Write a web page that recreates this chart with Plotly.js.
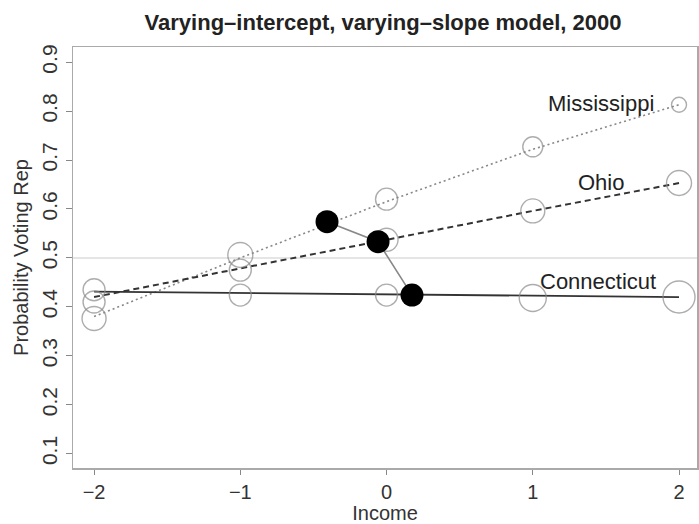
<!DOCTYPE html>
<html>
<head>
<meta charset="utf-8">
<script src="https://cdn.plot.ly/plotly-3.0.1.min.js"></script>
<style>html,body{margin:0;padding:0;background:#fff;}#chart{width:699px;height:524px;}</style>
</head>
<body>
<div id="chart"></div>
<script>
// Income levels
const income = [-2, -1, 0, 1, 2];

// Observed proportions (open circles) and sizes
const missObs = [0.376, 0.506, 0.620, 0.727, 0.813];
const missSize = [24, 25, 22, 20, 15];
const ohioObs = [0.410, 0.475, 0.537, 0.596, 0.653];
const ohioSize = [22, 22, 23, 24, 25];
const connObs = [0.435, 0.424, 0.424, 0.418, 0.420];
const connSize = [22, 22, 22, 27, 32];

// Fitted lines
const missFit = [0.380, 0.500, 0.615, 0.722, 0.813];
const ohioFit = [0.420, 0.478, 0.537, 0.596, 0.653];
const connFit = [0.431, 0.428, 0.425, 0.423, 0.420];

// State averages (filled dots)
const avgIncome = [-0.407, -0.058, 0.174];
const avgProb = [0.574, 0.533, 0.424];

// Labels
const stateNames = ["Mississippi", "Ohio", "Connecticut"];
const labelX = [1.843, 1.638, 1.857];
const labelY = [0.815, 0.654, 0.451];

const yTicks = [0.1, 0.2, 0.3, 0.4, 0.5, 0.6, 0.7, 0.8, 0.9];
const xTicks = [-2, -1, 0, 1, 2];
const refLine = 0.5;

const font = "Liberation Sans, Arial, Helvetica, sans-serif";
const ringColor = "#8a8a8a";

const traces = [
  {x: income, y: missFit, mode: "lines", line: {color: "#888", width: 1.6, dash: "2px,3px"}, hoverinfo: "skip"},
  {x: income, y: ohioFit, mode: "lines", line: {color: "#333", width: 2, dash: "6px,4px"}, hoverinfo: "skip"},
  {x: income, y: connFit, mode: "lines", line: {color: "#333", width: 1.8}, hoverinfo: "skip"},
  {x: income, y: missObs, mode: "markers", marker: {symbol: "circle-open", size: missSize, color: ringColor, line: {width: 1.4}}},
  {x: income, y: ohioObs, mode: "markers", marker: {symbol: "circle-open", size: ohioSize, color: ringColor, line: {width: 1.4}}},
  {x: income, y: connObs, mode: "markers", marker: {symbol: "circle-open", size: connSize, color: ringColor, line: {width: 1.4}}},
  {x: avgIncome, y: avgProb, mode: "lines+markers", line: {color: "#888", width: 1.6},
   marker: {symbol: "circle", size: 23, color: "#000", line: {width: 0}}}
];

const annotations = stateNames.map((t, i) => ({
  x: labelX[i], y: labelY[i], xref: "x", yref: "y", text: t, showarrow: false,
  xanchor: "right", yanchor: "middle", font: {family: font, size: 22, color: "#222"}
}));

const layout = {
  width: 699, height: 524,
  margin: {l: 73, r: 2, t: 47, b: 56},
  paper_bgcolor: "#fff", plot_bgcolor: "#fff",
  showlegend: false,
  title: {text: "<b>Varying–intercept, varying–slope model, 2000</b>", x: 0.548, xanchor: "center", y: 0.958, yanchor: "middle",
          font: {family: font, size: 22, color: "#222"}},
  xaxis: {range: [-2.144, 2.123], tickvals: xTicks, ticks: "outside", ticklen: 5, tickcolor: "#888",
          showgrid: false, zeroline: false, showline: true, mirror: true, linecolor: "#aaa", linewidth: 1.5,
          tickfont: {family: font, size: 20, color: "#333"},
          title: {text: "Income", font: {family: font, size: 20, color: "#333"}, standoff: 6}},
  yaxis: {range: [0.0706, 0.931], tickvals: yTicks, ticktext: yTicks.map(v => v.toFixed(1)), ticks: "outside", ticklen: 6, tickcolor: "#888",
          tickangle: -90, showgrid: false, zeroline: false, showline: true, mirror: true, linecolor: "#aaa", linewidth: 1.5,
          tickfont: {family: font, size: 21, color: "#333"},
          title: {text: "Probability Voting Rep", font: {family: font, size: 20, color: "#333"}, standoff: 4}},
  shapes: [{type: "line", xref: "paper", x0: 0, x1: 1, yref: "y", y0: refLine, y1: refLine,
            line: {color: "#ddd", width: 1.5}, layer: "below"}],
  annotations: annotations
};

Plotly.newPlot("chart", traces, layout, {displayModeBar: false, staticPlot: true});
</script>
</body>
</html>
